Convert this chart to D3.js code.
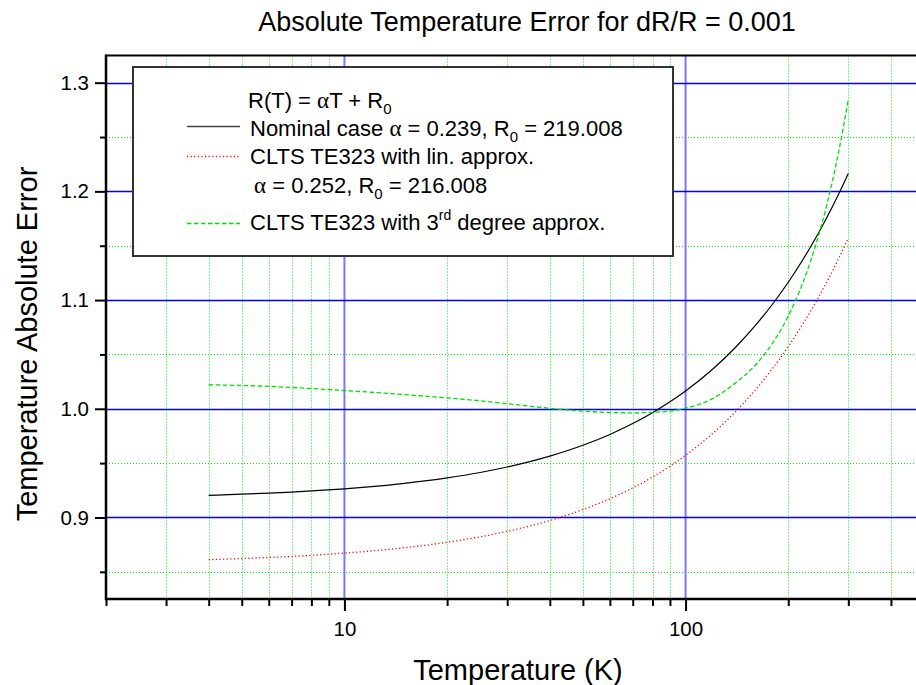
<!DOCTYPE html>
<html>
<head>
<meta charset="utf-8">
<script src="https://cdn.jsdelivr.net/npm/d3@7"></script>
<style>
  html, body { margin: 0; padding: 0; background: #fff; }
  svg { display: block; font-family: "Liberation Sans", Arial, sans-serif; }
</style>
</head>
<body>
<svg id="chart" width="916" height="685"></svg>
<script>
// Temperature samples (K)
const temps = [4, 5, 6, 7, 8, 10, 12, 15, 20, 25, 30, 40, 50, 60, 70, 80, 90, 100,
               120, 140, 160, 180, 200, 220, 240, 260, 280, 300];

// Nominal case, alpha = 0.239, R0 = 219.008
const nominal = [0.9204, 0.9214, 0.9224, 0.9234, 0.9244, 0.9264, 0.9284, 0.9314, 0.9364,
                 0.9414, 0.9464, 0.9564, 0.9664, 0.9764, 0.9864, 0.9964, 1.0064, 1.0164,
                 1.0364, 1.0564, 1.0764, 1.0964, 1.1164, 1.1364, 1.1564, 1.1764, 1.1964, 1.2164];

// CLTS TE323, linear approximation (alpha = 0.252, R0 = 216.008)
const linApprox = [0.8612, 0.8622, 0.8632, 0.8642, 0.8652, 0.8672, 0.8692, 0.8722, 0.8772,
                   0.8822, 0.8872, 0.8972, 0.9072, 0.9172, 0.9272, 0.9372, 0.9472, 0.9572,
                   0.9772, 0.9972, 1.0172, 1.0372, 1.0572, 1.0772, 1.0972, 1.1172, 1.1372, 1.1572];

// CLTS TE323, 3rd degree approximation
const cubicApprox = [1.0221, 1.0214, 1.0206, 1.0196, 1.0186, 1.0168, 1.0152, 1.0130, 1.0100,
                     1.0073, 1.0047, 1.0004, 0.9978, 0.9966, 0.9963, 0.9967, 0.9979, 1.0005,
                     1.0094, 1.0238, 1.0400, 1.0605, 1.0853, 1.1148, 1.1493, 1.1888, 1.2338, 1.2848];

// Axis ticks
const xMajor = [10, 100];
const xMinor = [2, 3, 4, 5, 6, 7, 8, 9, 20, 30, 40, 50, 60, 70, 80, 90, 200, 300, 400, 500];
const yMajor = [0.9, 1.0, 1.1, 1.2, 1.3];
const yMinor = [0.85, 0.95, 1.05, 1.15, 1.25];

const svg = d3.select("#chart");

const x = d3.scaleLog().domain([2, 500]).range([106, 924]);
const y = d3.scaleLinear().domain([0.825, 1.325]).range([599, 55.5]);

const [x0] = x.range();
const xEnd = 916;
const [yBot, yTop] = y.range();

// Grid: dotted green at minor ticks, blue at major ticks
const grid = svg.append("g");
grid.selectAll(".gxm").data(xMinor.filter(v => x(v) > x0 + 1 && x(v) < xEnd)).join("line")
  .attr("x1", d => Math.round(x(d)) + 0.5).attr("x2", d => Math.round(x(d)) + 0.5)
  .attr("y1", yTop).attr("y2", yBot)
  .attr("stroke", "#00ee00").attr("stroke-width", 1).attr("stroke-dasharray", "1,2");
grid.selectAll(".gym").data(yMinor).join("line")
  .attr("x1", x0).attr("x2", xEnd)
  .attr("y1", d => Math.round(y(d)) + 0.5).attr("y2", d => Math.round(y(d)) + 0.5)
  .attr("stroke", "#00ee00").attr("stroke-width", 1).attr("stroke-dasharray", "1,2");
grid.selectAll(".gxM").data(xMajor).join("line")
  .attr("x1", d => x(d)).attr("x2", d => x(d))
  .attr("y1", yTop).attr("y2", yBot)
  .attr("stroke", "#7878ff").attr("stroke-width", 2);
grid.selectAll(".gyM").data(yMajor).join("line")
  .attr("x1", x0).attr("x2", xEnd)
  .attr("y1", d => Math.round(y(d)) + 0.5).attr("y2", d => Math.round(y(d)) + 0.5)
  .attr("stroke", "#0000ff").attr("stroke-width", 1.3);

// Curves
const line = d3.line()
  .x(d => x(d[0]))
  .y(d => y(d[1]))
  .curve(d3.curveMonotoneX);

const series = [
  { values: nominal, color: "#000000", dash: null, width: 1.2 },
  { values: linApprox, color: "#ff0000", dash: "1.2,2.4", width: 1.3 },
  { values: cubicApprox, color: "#00e000", dash: "4.5,2.5", width: 1.3 }
];

svg.append("g").selectAll("path").data(series).join("path")
  .attr("d", s => line(temps.map((t, i) => [t, s.values[i]])))
  .attr("fill", "none")
  .attr("stroke", s => s.color)
  .attr("stroke-width", s => s.width)
  .attr("stroke-dasharray", s => s.dash);

// Axes
const xAxisMajor = d3.axisBottom(x).tickValues(xMajor).tickSize(12).tickPadding(10)
  .tickFormat(d3.format("d"));
const xAxisMinor = d3.axisBottom(x).tickValues(xMinor).tickSize(7).tickFormat("");
const yAxisMajor = d3.axisLeft(y).tickValues(yMajor).tickSize(11).tickPadding(6)
  .tickFormat(d3.format(".1f"));
const yAxisMinor = d3.axisLeft(y).tickValues(yMinor).tickSize(6).tickFormat("");

function styleAxis(g) {
  g.select(".domain").remove();
  g.selectAll(".tick line").attr("stroke", "#000").attr("stroke-width", 2);
  g.selectAll(".tick text").attr("fill", "#000").attr("font-size", 20.5)
    .attr("font-family", "Liberation Sans, Arial, sans-serif");
}

svg.append("g").attr("transform", `translate(0,${yBot})`).call(xAxisMinor).call(styleAxis);
svg.append("g").attr("transform", `translate(0,${yBot})`).call(xAxisMajor).call(styleAxis);
svg.append("g").attr("transform", `translate(${x0},0)`).call(yAxisMinor).call(styleAxis);
svg.append("g").attr("transform", `translate(${x0},0)`).call(yAxisMajor).call(styleAxis);

// Frame lines
svg.append("line").attr("x1", x0).attr("x2", xEnd).attr("y1", yBot).attr("y2", yBot)
  .attr("stroke", "#000").attr("stroke-width", 2.5);
svg.append("line").attr("x1", x0).attr("x2", xEnd).attr("y1", yTop).attr("y2", yTop)
  .attr("stroke", "#000").attr("stroke-width", 2);
svg.append("line").attr("x1", x0).attr("x2", x0).attr("y1", yTop - 1).attr("y2", yBot + 1.25)
  .attr("stroke", "#000").attr("stroke-width", 2.5);

// Titles
svg.append("text").attr("x", 527).attr("y", 31).attr("text-anchor", "middle")
  .attr("font-size", 27).text("Absolute Temperature Error for dR/R = 0.001");
svg.append("text").attr("x", 518).attr("y", 680).attr("text-anchor", "middle")
  .attr("font-size", 29).text("Temperature (K)");
svg.append("text").attr("transform", "translate(37,344) rotate(-90)")
  .attr("text-anchor", "middle").attr("font-size", 29).text("Temperature Absolute Error");

// Legend
const legend = svg.append("g");
legend.append("rect").attr("x", 133).attr("y", 67).attr("width", 540).attr("height", 189)
  .attr("fill", "#fff").attr("stroke", "#333").attr("stroke-width", 2);

const fs = 22;
const alpha = { t: "\u03B1", serif: true };
function addText(xp, yp, parts) {
  const t = legend.append("text").attr("x", xp).attr("y", yp).attr("font-size", fs);
  parts.forEach(p => {
    const ts = t.append("tspan").text(p.t);
    if (p.serif) ts.attr("font-family", "Liberation Serif, Times New Roman, serif").attr("font-size", 23);
    if (p.sub) ts.attr("font-size", 15).attr("dy", 6);
    if (p.sup) ts.attr("font-size", 14).attr("dy", -10);
    if (p.reset) ts.attr("dy", p.reset);
  });
}
addText(248, 108, [{ t: "R(T) = " }, alpha, { t: "T + R" }, { t: "0", sub: true }]);
addText(250, 136, [{ t: "Nominal case " }, alpha, { t: " = 0.239, R" }, { t: "0", sub: true },
                   { t: " = 219.008", reset: -6 }]);
addText(250, 164, [{ t: "CLTS TE323 with lin. approx." }]);
addText(254, 193, [alpha, { t: " = 0.252, R" }, { t: "0", sub: true }, { t: " = 216.008", reset: -6 }]);
addText(250, 230, [{ t: "CLTS TE323 with 3" }, { t: "rd", sup: true }, { t: " degree approx.", reset: 10 }]);

const samples = [
  { yy: 126.5, s: series[0], color: "#444" },
  { yy: 156.5, s: series[1], color: "#ff0000" },
  { yy: 223.5, s: series[2], color: "#00e000" }
];
legend.selectAll(".sample").data(samples).join("line")
  .attr("x1", 187).attr("x2", 240).attr("y1", d => d.yy).attr("y2", d => d.yy)
  .attr("stroke", d => d.color).attr("stroke-width", 1.3)
  .attr("stroke-dasharray", d => d.s.dash);
</script>
</body>
</html>
